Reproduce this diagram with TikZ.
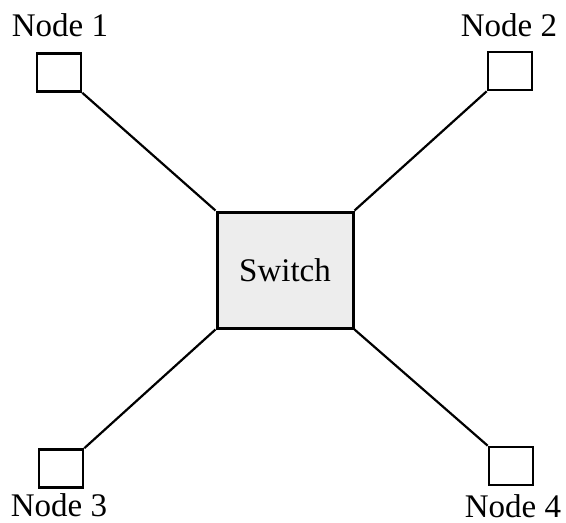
\documentclass[tikz,border=0pt]{standalone}
\usepackage{fontspec}
\setmainfont{Liberation Serif}
\begin{document}
\begin{tikzpicture}[x=1pt,y=-1pt,
  term/.style={draw=black,line width=2.6pt,minimum width=44pt,minimum height=38pt,inner sep=0pt},
  sw/.style={draw=black,line width=3pt,fill=black!7,minimum width=136pt,minimum height=116pt,inner sep=0pt,font=\fontsize{33}{35}\selectfont},
  lbl/.style={font=\fontsize{33}{35}\selectfont,inner sep=0pt},
  link/.style={line width=2.2pt}]
\useasboundingbox (0,0) rectangle (566,523);
\node[sw] (s) at (285,270) {Switch};
\node[term] (n1) at (59,72.5) {};
\node[term] (n2) at (510,71) {};
\node[term] (n3) at (61,468.5) {};
\node[term] (n4) at (511,466) {};
\node[lbl] (l1) at (60,25) {Node 1};
\node[lbl] (l2) at (509,25) {Node 2};
\node[lbl] (l3) at (59,505) {Node 3};
\node[lbl] (l4) at (513,506) {Node 4};
\draw[link] (n1.south east) -- (s.north west);
\draw[link] (n2.south west) -- (s.north east);
\draw[link] (n3.north east) -- (s.south west);
\draw[link] (n4.north west) -- (s.south east);
\end{tikzpicture}
\end{document}
